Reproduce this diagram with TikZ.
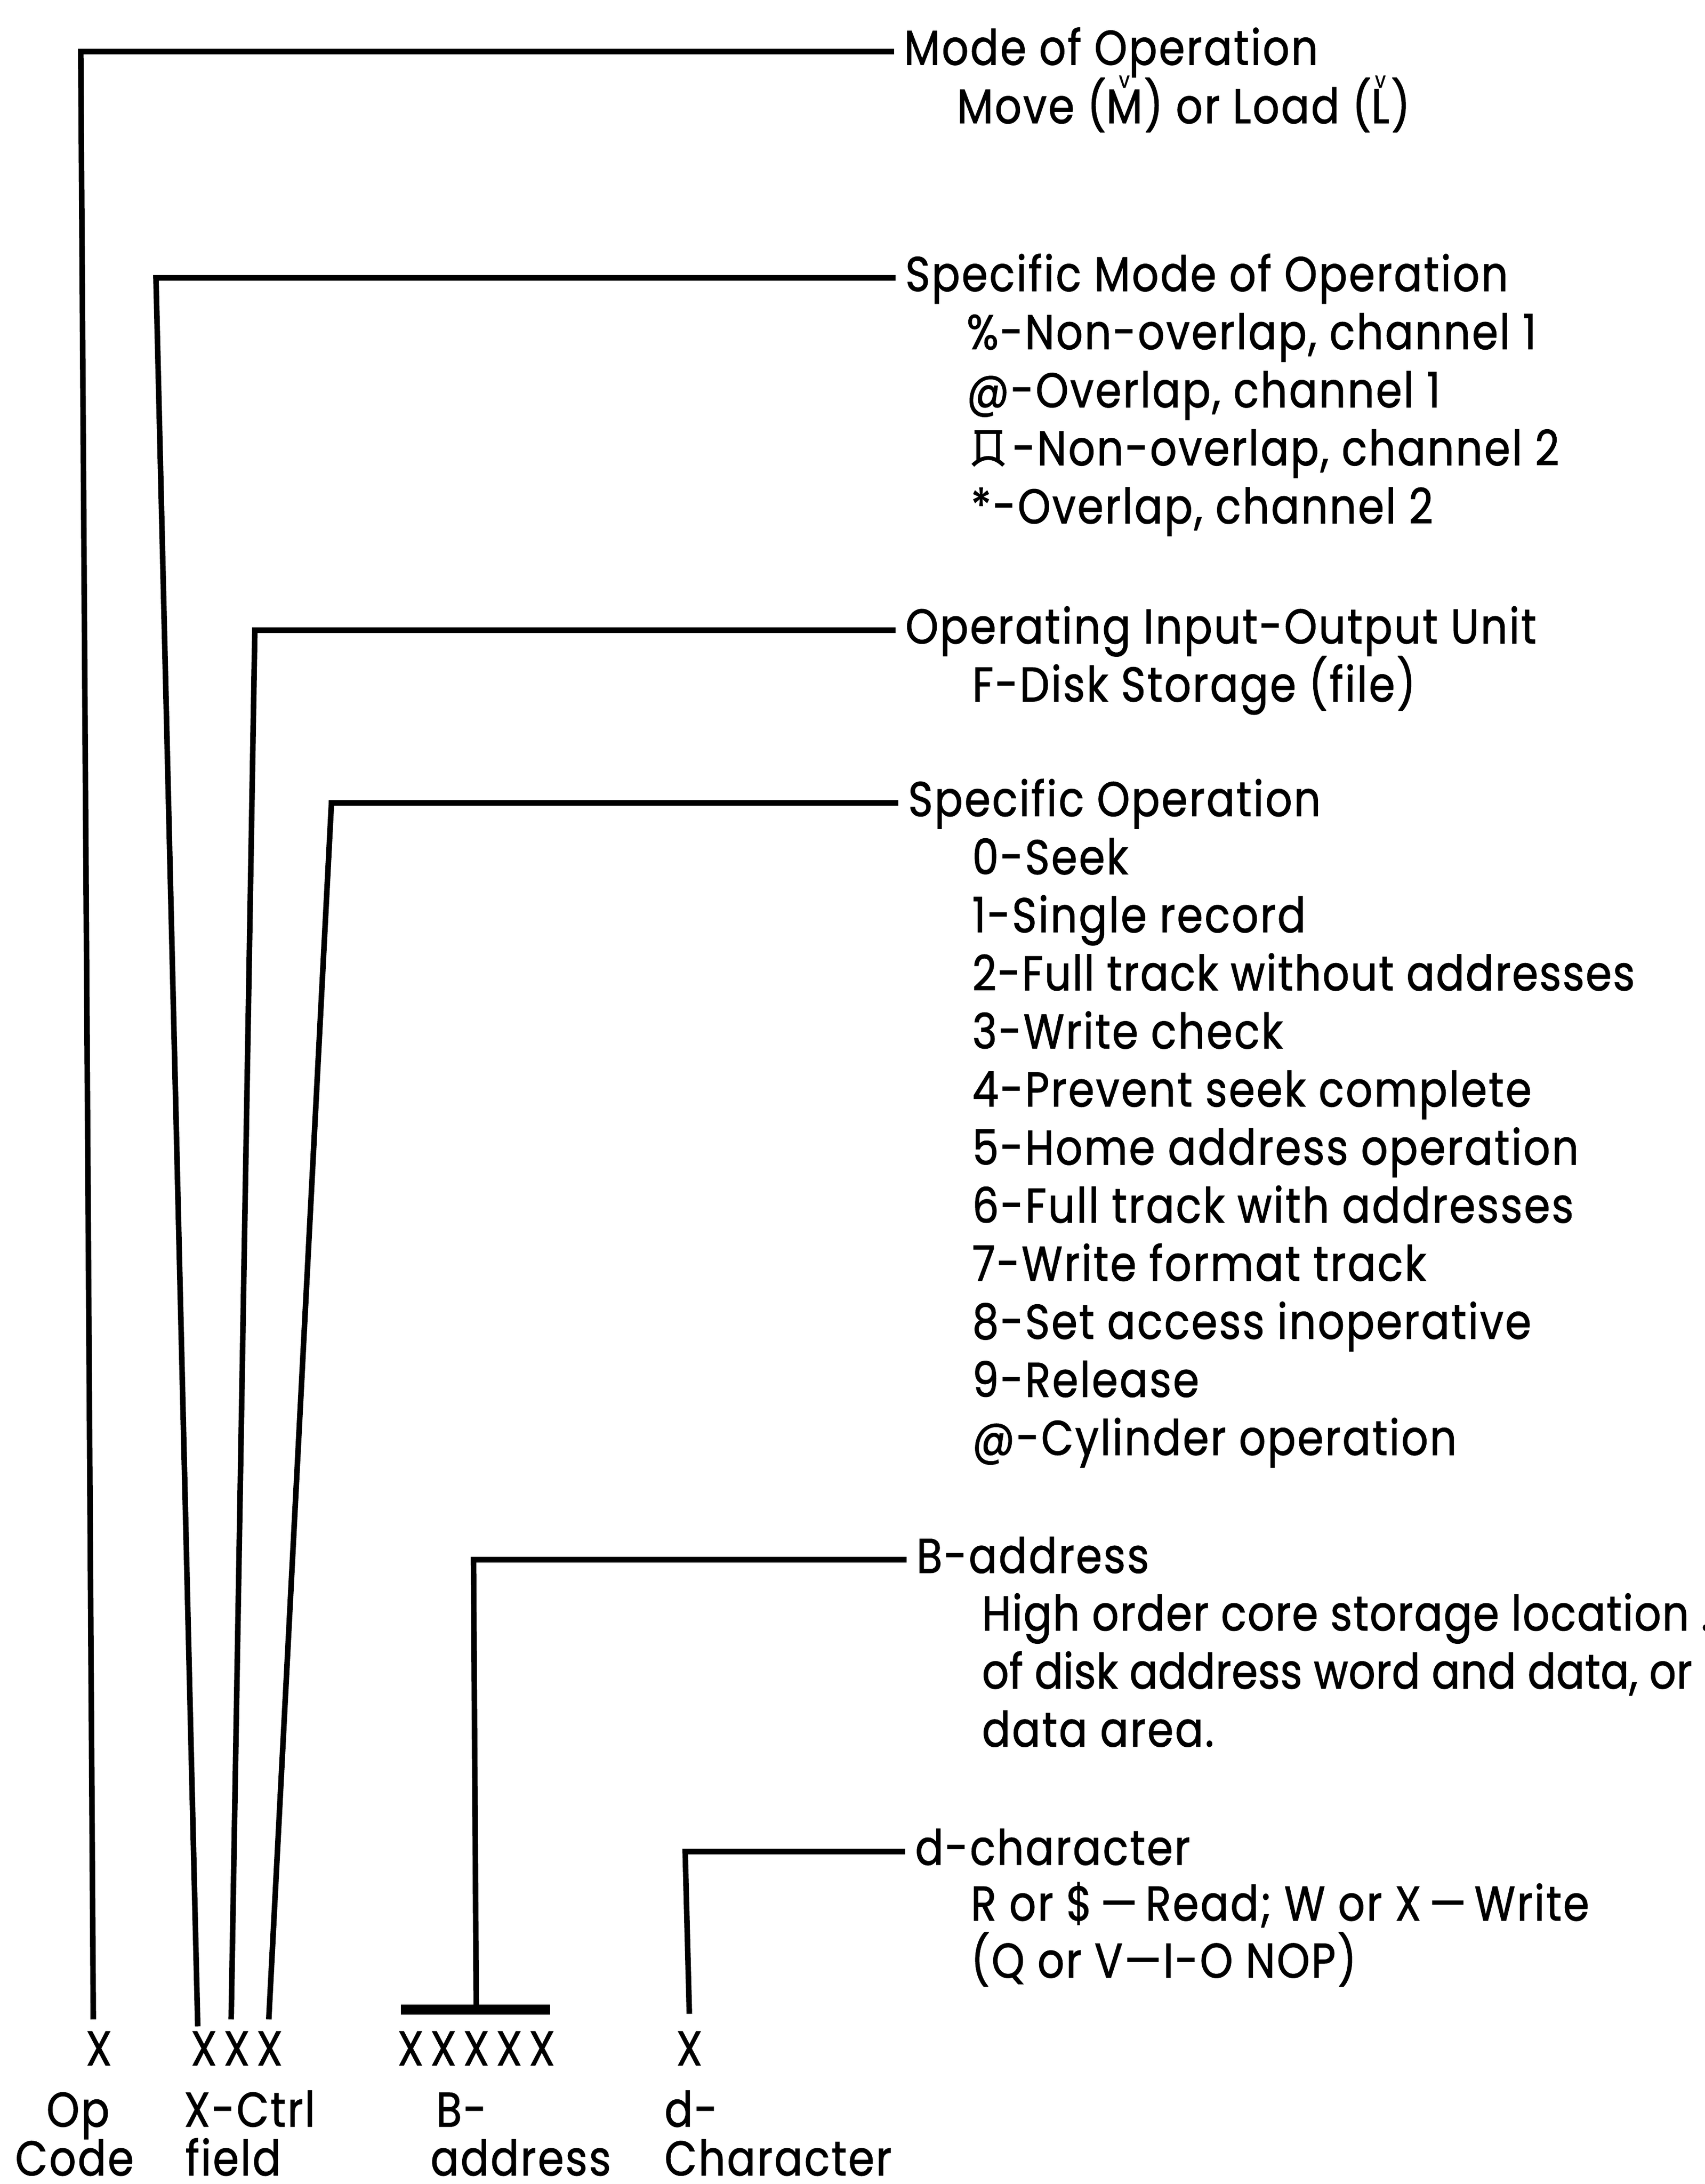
\documentclass[tikz,border=0pt]{standalone}
\usepackage{fontspec}
\setmainfont{Poppins}[FakeStretch=0.86,LetterSpace=3.4,FakeBold=1.2]
\newcommand\lblfont{\fontsize{35}{42}\selectfont}
\newcommand\chk[1]{\sbox0{#1}\makebox[0pt][l]{\makebox[\wd0]{\raisebox{25.5pt}{\fontsize{16}{16}\selectfont v}}}#1}
\newcommand\sqloz{\tikz[baseline=0pt,x=1pt,y=1pt,line width=2.8pt]{\draw (0,24)--(20,24); \draw (3,24)--(3,4); \draw (17,24)--(17,4); \draw (-1,0) .. controls (6,7) and (14,7) .. (21,0);}}
\tikzset{
 head/.style={anchor=base west,inner ysep=0pt,inner xsep=7pt,text height=24pt,text depth=5pt,font=\lblfont},
 item/.style={anchor=base west,inner sep=0pt,font=\lblfont},
 tight/.style={item,font=\lblfont\addfontfeature{LetterSpace=#1}},
 field/.style={anchor=base,inner sep=0pt,font=\lblfont},
 xfield/.style={field,font=\lblfont\addfontfeature{LetterSpace=14}},
 botcap/.style={item,text depth=0pt},
 lead/.style={line width=4pt},
 bar/.style={line width=7pt}
}
\begin{document}
\begin{tikzpicture}[x=1pt,y=-1pt]
 \useasboundingbox (0,0) rectangle (1224,1568.2);
 \node[head] (modeop) at (642,46.5) {Mode of Operation};
 \node[item] (modeopa) at (687,88.5) {Move (\chk{M}) or Load (\chk{L})};
 \node[head] (specmode) at (643,209) {Specific Mode of Operation};
 \node[item] (specmodea) at (694,250.7) {\%-Non-overlap, channel 1};
 \node[item] (specmodeb) at (694,292.4) {@-Overlap, channel 1};
 \node[item] (specmodec) at (697,334.1) {\sqloz\hspace{5pt}-Non-overlap, channel 2};
 \node[item] (specmoded) at (697,375.8) {*-Overlap, channel 2};
 \node[head] (iounit) at (643,462) {Operating Input-Output Unit};
 \node[item] (iounita) at (698,503.7) {F-Disk Storage (file)};
 \node[head] (specop) at (645,586) {Specific Operation};
 \node[item] (specop0) at (698,627.7) {0-Seek};
 \node[item] (specop1) at (698,669.4) {1-Single record};
 \node[tight=2.6] (specop2) at (698,711.1) {2-Full track without addresses};
 \node[item] (specop3) at (698,752.8) {3-Write check};
 \node[item] (specop4) at (698,794.5) {4-Prevent seek complete};
 \node[item] (specop5) at (698,836.2) {5-Home address operation};
 \node[item] (specop6) at (698,877.9) {6-Full track with addresses};
 \node[item] (specop7) at (698,919.6) {7-Write format track};
 \node[item] (specop8) at (698,961.3) {8-Set access inoperative};
 \node[item] (specop9) at (698,1003) {9-Release};
 \node[item] (specopc) at (698,1044.7) {@-Cylinder operation};
 \node[head] (baddr) at (651,1129.4) {B-address};
 \node[tight=2.2] (baddra) at (705,1170.7) {High order core storage location .};
 \node[tight=0.8] (baddrb) at (705,1212.4) {of disk address word and data, or};
 \node[item] (baddrc) at (705,1254.1) {data area.};
 \node[head] (dchar) at (650,1339) {d-character};
 \node[item] (dchara) at (697,1379) {R or \$\,—\,Read; W or X\,—\,Write};
 \node[item] (dcharb) at (697,1420) {(Q or V—I-O NOP)};
 \node[xfield] (opx) at (71,1483) {X};
 \node[xfield] (ctrlx) at (170,1483) {XXX};
 \node[xfield] (baddrx) at (342,1483) {XXXXX};
 \node[xfield] (dcharx) at (495,1483) {X};
 \node[field] (opcap) at (56,1527) {Op};
 \node[field,text depth=0pt] (opcapb) at (53.5,1562) {Code};
 \node[item] (ctrlcap) at (132,1527) {X-Ctrl};
 \node[botcap] (ctrlcapb) at (133,1562) {field};
 \node[item] (baddrcap) at (313,1527) {B-};
 \node[botcap] (baddrcapb) at (309,1562) {address};
 \node[item] (dcharcap) at (477,1527) {d-};
 \node[botcap] (dcharcapb) at (477,1562) {Character};
 \coordinate (opbend) at (58,0);
 \coordinate (opfoot) at (67,1450);
 \coordinate (ctrlbenda) at (112,0);
 \coordinate (ctrlfoota) at (142,1455);
 \coordinate (ctrlbendb) at (183,0);
 \coordinate (ctrlfootb) at (166,1450);
 \coordinate (ctrlbendc) at (238,0);
 \coordinate (ctrlfootc) at (193,1450);
 \coordinate (baddrbend) at (340,0);
 \coordinate (baddrfoot) at (342,1443);
 \coordinate (baddrbarl) at (288,1443);
 \coordinate (baddrbarr) at (395,1443);
 \coordinate (dcharbend) at (492,0);
 \coordinate (dcharfoot) at (495,1446);
 \draw[lead] (modeop.west) -- (modeop.west -| opbend) -- (opfoot);
 \draw[lead] (specmode.west) -- (specmode.west -| ctrlbenda) -- (ctrlfoota);
 \draw[lead] (iounit.west) -- (iounit.west -| ctrlbendb) -- (ctrlfootb);
 \draw[lead] (specop.west) -- (specop.west -| ctrlbendc) -- (ctrlfootc);
 \draw[lead] (baddr.west) -- (baddr.west -| baddrbend) -- (baddrfoot);
 \draw[bar] (baddrbarl) -- (baddrbarr);
 \draw[lead] (dchar.west) -- (dchar.west -| dcharbend) -- (dcharfoot);
\end{tikzpicture}
\end{document}
